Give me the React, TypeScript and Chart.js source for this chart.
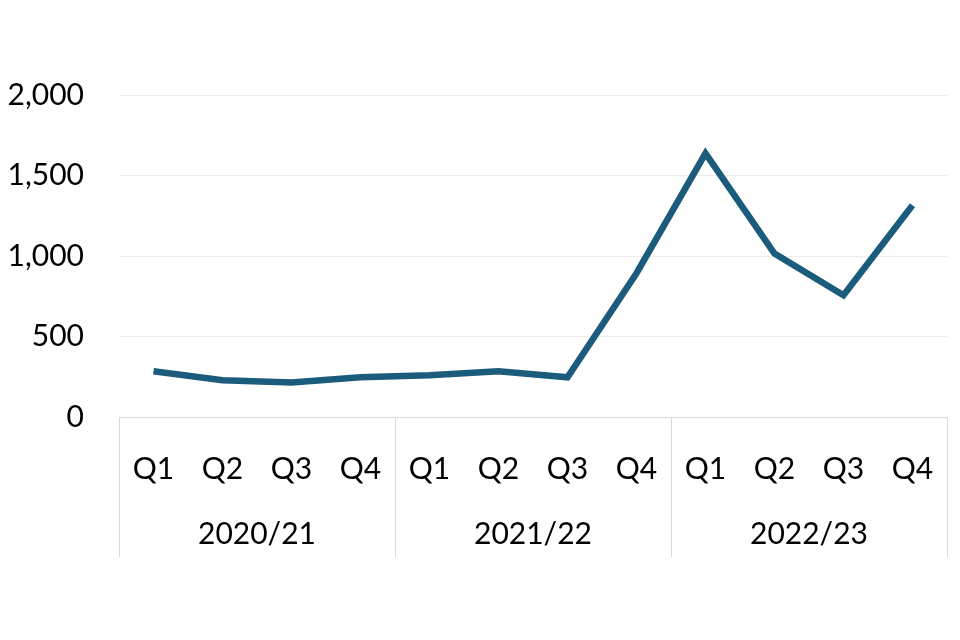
import React, { useEffect, useRef } from "react";
import { Chart, registerables } from "chart.js";

Chart.register(...registerables);

const quarters = ["Q1", "Q2", "Q3", "Q4", "Q1", "Q2", "Q3", "Q4", "Q1", "Q2", "Q3", "Q4"];
const years = ["2020/21", "2021/22", "2022/23"];
const values = [284, 228, 215, 247, 259, 284, 247, 893, 1637, 1015, 756, 1315];
const yTicks = [0, 500, 1000, 1500, 2000];

const FONT = "Lato, 'Open Sans', sans-serif";
const LINE = "#d9d9d9";

const groupPlugin = {
  id: "groupPlugin",
  afterDraw(chart: any) {
    const { ctx, chartArea } = chart;
    const x = chart.scales.x;
    const step = x.getPixelForValue(1) - x.getPixelForValue(0);
    const bottom = 557;
    ctx.save();
    ctx.strokeStyle = LINE;
    ctx.lineWidth = 1;
    for (let g = 0; g <= years.length; g++) {
      const idx = g * 4;
      const px = Math.round(x.getPixelForValue(0) - step / 2 + idx * step) + 0.5;
      ctx.beginPath();
      ctx.moveTo(px, chartArea.bottom);
      ctx.lineTo(px, bottom);
      ctx.stroke();
    }
    ctx.fillStyle = "#000000";
    ctx.font = `30px ${FONT}`;
    ctx.textAlign = "center";
    ctx.textBaseline = "middle";
    years.forEach((y, g) => {
      const cx = (x.getPixelForValue(g * 4) + x.getPixelForValue(g * 4 + 3)) / 2;
      ctx.fillText(y, cx, 534);
    });
    ctx.restore();
  },
};

export default function App() {
  const ref = useRef<HTMLCanvasElement>(null);
  useEffect(() => {
    document.body.style.margin = "0";
    const chart = new Chart(ref.current!, {
      type: "line",
      data: {
        labels: quarters,
        datasets: [
          {
            data: values,
            borderColor: "#1b5c7d",
            borderWidth: 6.5,
            pointRadius: 0,
            tension: 0,
            fill: false,
          },
        ],
      },
      options: {
        animation: false,
        responsive: false,
        maintainAspectRatio: false,
        layout: { padding: { top: 95, right: 13, left: 0, bottom: 0 } },
        plugins: { legend: { display: false }, tooltip: { enabled: false } },
        scales: {
          x: {
            offset: true,
            grid: { display: false },
            border: { display: true, color: LINE, width: 1 },
            ticks: {
              color: "#000000",
              font: { family: FONT, size: 30 },
              padding: 26,
              maxRotation: 0,
              autoSkip: false,
            },
            afterFit(scale: any) {
              scale.height = 223;
            },
          },
          y: {
            min: 0,
            max: 2000,
            afterBuildTicks(scale: any) {
              scale.ticks = yTicks.map((v) => ({ value: v }));
            },
            grid: { color: "#ececec", lineWidth: 1, drawTicks: false },
            border: { display: false },
            ticks: {
              color: "#000000",
              font: { family: FONT, size: 30 },
              padding: 35,
              callback: (v: any) => Number(v).toLocaleString("en-US"),
            },
            afterFit(scale: any) {
              scale.width = 119;
            },
          },
        },
      },
      plugins: [groupPlugin],
    });
    return () => chart.destroy();
  }, []);
  return (
    <div style={{ width: 960, height: 640, background: "#fff" }}>
      <canvas ref={ref} width={960} height={640} style={{ width: 960, height: 640 }} />
    </div>
  );
}
